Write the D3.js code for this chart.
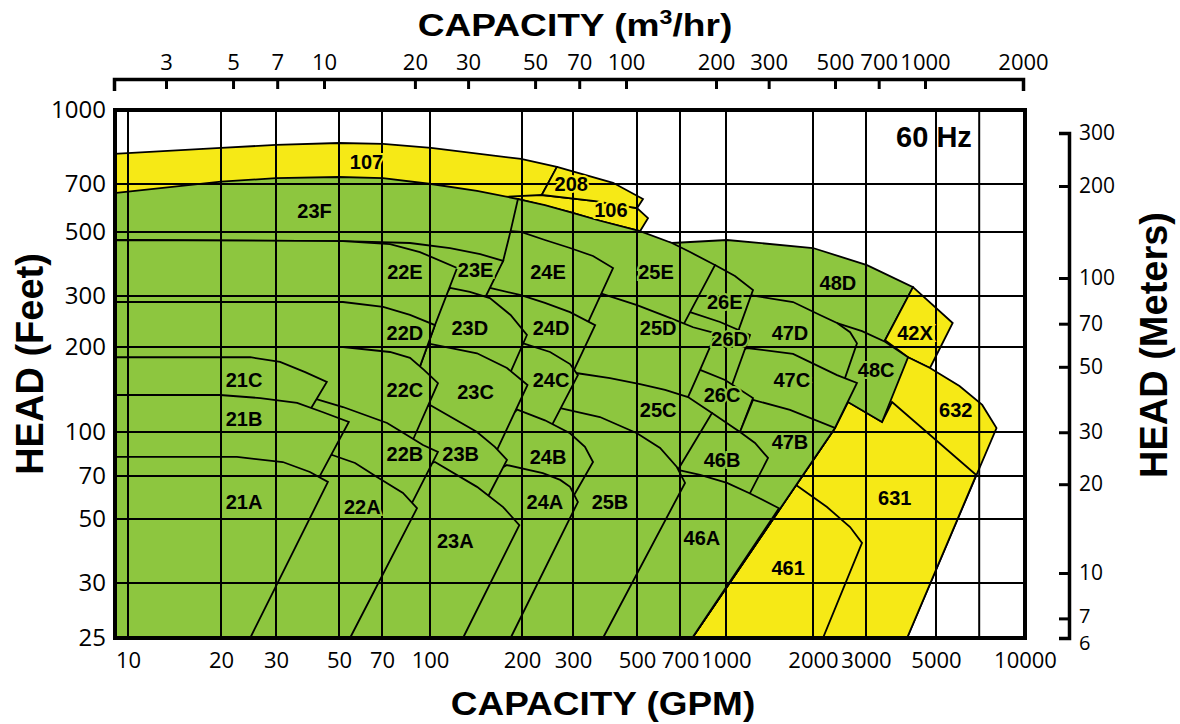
<!DOCTYPE html>
<html>
<head>
<meta charset="utf-8">
<script src="https://cdn.jsdelivr.net/npm/d3@7/dist/d3.min.js"></script>
<style>
  body { margin: 0; background: #fff; }
</style>
</head>
<body>
<div id="wrapper"></div>
<script>
// tick values
const gpmTicks = [10, 20, 30, 50, 70, 100, 200, 300, 500, 700, 1000, 2000, 3000, 5000, 10000];
const gpmGrid = [10, 20, 30, 50, 70, 100, 200, 300, 500, 700, 1000, 2000, 3000, 5000, 7000];
const m3hTicks = [3, 5, 7, 10, 20, 30, 50, 70, 100, 200, 300, 500, 700, 1000, 2000];
const feetTicks = [25, 30, 50, 70, 100, 200, 300, 500, 700, 1000];
const feetGrid = [30, 50, 70, 100, 200, 300, 500, 700];
const meterTicks = [6, 7, 10, 20, 30, 50, 70, 100, 200, 300];

// pump coverage areas, [gpm, feet]. drawn in this order, so the later (lower / left) ones
// hide the parts of the earlier ones that run under them
const regionNames = ["107", "106", "208",
    "48D", "42X", "632", "631", "461", "48C", "47D", "47C",
    "26E", "26D", "26C", "47B", "46B", "46A",
    "25E", "25D", "25C", "25B",
    "24E", "24D", "24C", "24B", "24A",
    "23F", "23E", "23D", "23C", "23B", "23A",
    "22E", "22D", "22C", "22B", "22A",
    "21C", "21B", "21A"];
const yellowAreas = ["107", "106", "208", "42X", "632", "631", "461"];
const regionPoints = [
    // 107, 106, 208
    [[9,809],[20,833],[30,845],[50,853],[70.5,849],[100.8,833],[198.5,790],[264,760],[234,648],[229.5,563],[9,563]],
    [[176,640],[234,648],[358,621],[500,591],[545,551],[512,503],[372,541],[293,575],[194,630],[176,604]],
    [[264,760],[413,704],[524,630],[500,591],[358,621],[234,648]],
    // 48D
    [[657,458],[1008,469],[2000,440],[3022,384],[4228,322],[3447,211],[1008,25],[9,25],[9,507],[372,507]],
    // 42X
    [[4228,322],[5694,242],[4785,168.5],[4077,184],[3447,211]],
    // 632
    [[4077,184],[4785,168.5],[6003,145.5],[7167,124.7],[8010,103.3],[4047,25],[769,25],[2366,103.3],[2615,127.7],[3324,135.2]],
    // 631
    [[2615,127.7],[3372,108.5],[3627,127.7],[6842,70.6],[4047,25],[769,25],[2366,103.3]],
    // 461
    [[1747,65.2],[2226,54.9],[2656,46.9],[2910,41.3],[2158,25],[769,25]],
    // 48C
    [[2404,242],[2910,227],[3447,208.5],[4077,184],[3372,108.5],[2615,127.7],[2110,130],[2110,229]],
    // 47D
    [[1211,302],[1706,286],[2110,258],[2404,242],[2656,225],[2800,206],[2555,155.3],[2366,103.3],[769,25],[9,25],[9,507],[372,507],[818,369],[1163,291]],
    // 47C
    [[1182,198.4],[1706,189],[2404,159],[2800,149.1],[2366,103.3],[769,25],[9,25],[9,291],[372,291],[1118,192]],
    // 26E
    [[918,384],[1074,352],[1240,314.5],[1109,231],[818,110],[372,25],[9,25],[9,507],[372,507],[818,375]],
    // 26D
    [[757,264],[955,244],[1211,220],[1049,146.7],[818,110],[372,25],[9,25],[9,507],[372,507],[700,291]],
    // 26C
    [[818,166],[993,152.8],[1240,131.9],[1118,100],[818,49.6],[372,25],[9,25],[9,291],[372,291],[757,163]],
    // 47B
    [[1240,130],[1665,119.7],[2366,103.3],[769,25],[553,25],[1118,100]],
    // 46B
    [[897,116.8],[1118,100],[1260,91.5],[1398,81],[1201,60.3],[818,36],[372,25],[9,25],[9,110],[757,110]],
    // 46A
    [[688,73.5],[818,70.6],[1008,66.3],[1201,61.3],[1525,54.4],[769,25],[9,25],[9,73.5],[647,73.5]],
    // 25E
    [[194,630],[240,604],[293,575],[372,541],[512,503],[657,458],[757,426],[918,384],[757,264],[194,25],[9,25],[9,604]],
    // 25D
    [[372,307],[500,279],[647,252],[775,234],[925,223],[818,166],[745,133],[322,25],[9,25],[9,302],[343.6,302]],
    // 25C
    [[307,161.8],[403,155.3],[512,147.9],[623,141],[745,133],[897,116.8],[688,73.5],[309.6,25],[9,25],[9,152.8],[293,157.8]],
    // 25B
    [[271,121.6],[372,113],[500,99],[599,87.9],[683,75.3],[728,66.3],[381,25],[9,25],[9,119.7],[260,119.7]],
    // 24E .. 24A
    [[183.5,503],[198.5,500],[240,469],[293,440],[352,413],[413,375],[344,252],[110,25],[9,25],[9,484],[176,484]],
    [[157,320],[198.5,302],[240,284],[293,264],[358,238],[300,163],[114.5,25],[9,25],[9,302]],
    [[202,206],[250,192],[293,174],[312,159],[254,106],[108.6,25],[9,25],[9,195],[185,195]],
    [[193,120],[240,110],[293,99],[330,88.6],[352,78.4],[300,59.4],[161,25],[9,25],[9,115],[185,115]],
    [[178.6,76.5],[236,71.7],[271,67.9],[293,64.3],[312,57.1],[183.5,25],[9,25],[9,73.5],[172,74.8]],
    // 23F .. 23A
    [[9,657],[20,708],[30,720],[50,724],[70.5,720],[100.8,700],[142.5,667],[194,630],[183.5,503],[173.5,397],[146,291],[9,291]],
    [[9,469],[51.6,465],[86.2,458],[116.3,440],[146,419],[173.5,397],[149.1,286],[135,268],[9,268]],
    [[116.3,320],[135,310],[157,295],[183.5,258],[208,220],[183.5,163],[73.2,25],[9,25],[9,268],[103.8,268]],
    [[100,205],[142.5,190],[178.6,168.5],[209,146.7],[165.6,86.4],[84.3,25],[9,25],[9,195],[92.8,195]],
    [[100,124.7],[142.5,100],[163,88.6],[178.6,79.7],[157,61.3],[89.5,25],[9,25],[9,119.7],[93.5,119.7]],
    [[103.8,78.4],[142.5,64.3],[173.5,54.9],[196,47.6],[128.2,25],[9,25],[9,76.5],[97.8,76.5]],
    // 22E .. 22A
    [[9,469],[51.6,465],[74.3,454],[92.8,426],[122.6,375],[103.8,238],[91.4,163],[42.2,25],[9,25]],
    [[9,286],[51.6,286],[70.6,275],[86.2,258],[103.8,238],[91.4,163],[42.2,25],[9,25]],
    [[9,200],[51.6,200],[74.3,192],[86.2,183],[95.6,166],[106.2,149],[89.5,97.6],[45,25],[9,25]],
    [[40.5,131.9],[51.6,122.6],[72.7,107.6],[86.2,96],[94.9,90],[106.2,85.1],[87.5,56.7],[51.6,25],[9,25],[9,130]],
    [[47.3,83],[56.7,77.8],[67.3,69.4],[81.8,61.3],[90.8,54.4],[54.5,25],[9,25],[9,83]],
    // 21C .. 21A
    [[9,184],[24.8,184],[31,177],[38,163],[45.3,150.4],[40.5,124.7],[13.8,25],[9,25]],
    [[9,135.2],[19.85,135.2],[26.7,131.9],[35.6,126.7],[43.7,117.7],[54,108.5],[42.6,69.4],[21.8,25],[9,25]],
    [[9,81.7],[22.5,81.7],[31.7,78.4],[39.5,72.3],[45.7,66.8],[24.8,25],[9,25]]
];

// area labels
const labelText = ["107", "208", "106", "23F", "22E", "23E", "24E", "25E", "26E", "48D",
    "22D", "23D", "24D", "25D", "26D", "47D", "42X",
    "21C", "22C", "23C", "24C", "25C", "26C", "47C", "48C", "632",
    "21B", "22B", "23B", "24B", "46B", "47B",
    "21A", "22A", "24A", "25B", "46A", "631", "23A", "461"];
const labelGpm = [62, 296, 406, 41, 83, 141, 246, 580, 990, 2420,
    83, 135, 252, 590, 1030, 1665, 4290,
    23.7, 83, 141, 252, 590, 970, 1690, 3230, 5830,
    23.7, 83, 126, 246, 970, 1665,
    23.7, 60, 240, 403, 830, 3700, 121, 1640];
const labelFeet = [778, 700, 583, 579, 363, 369, 363, 363, 286, 333,
    224, 233, 233, 233, 213, 224, 224,
    153, 141, 139, 153, 120, 135, 153, 166, 120,
    111, 84, 84, 82, 80, 92,
    57, 55, 57, 57, 43, 59, 42, 34];

const green = "#8dc63f";
const yellow = "#f6e916";

const width = 1180;
const height = 724;

const x = d3.scaleLog()
    .domain([9, 10, 20, 30, 50, 70, 100, 200, 300, 500, 700, 1000, 2000, 3000, 5000, 10000])
    .range([114, 128, 221, 276, 339, 382, 430, 522, 573, 637, 680, 726, 813, 866, 936, 1025]);
const y = d3.scaleLog()
    .domain([25, 30, 50, 70, 100, 200, 300, 500, 700, 1000])
    .range([638, 583, 519, 476, 432, 347, 296, 232, 184, 110]);
const m3h = d3.scaleLog()
    .domain([2.05, 3, 10, 100, 1000, 2000])
    .range([114, 166, 324, 626, 925, 1023]);
const meters = d3.scaleLog()
    .domain([6, 10, 100, 200, 300])
    .range([638, 573, 278, 186, 133]);

const svg = d3.select("#wrapper")
    .append("svg")
    .attr("width", width)
    .attr("height", height);

// areas
const outline = d3.line()
    .x(d => x(d[0]))
    .y(d => y(d[1]));

svg.append("g")
    .selectAll("path")
    .data(regionPoints)
    .join("path")
    .attr("d", d => outline(d) + "Z")
    .attr("fill", (d, i) => yellowAreas.includes(regionNames[i]) ? yellow : green)
    .attr("stroke", "#000")
    .attr("stroke-width", 1.8)
    .attr("stroke-linejoin", "miter");

// grid
const grid = svg.append("g")
    .attr("stroke", "#000")
    .attr("stroke-width", 2);
grid.selectAll("line.v")
    .data(gpmGrid)
    .join("line")
    .attr("class", "v")
    .attr("x1", d => x(d))
    .attr("x2", d => x(d))
    .attr("y1", y(1000))
    .attr("y2", y(25));
grid.selectAll("line.h")
    .data(feetGrid)
    .join("line")
    .attr("class", "h")
    .attr("x1", x(9))
    .attr("x2", x(10000))
    .attr("y1", d => y(d))
    .attr("y2", d => y(d));

// frame
svg.append("rect")
    .attr("x", x(9) + 1)
    .attr("y", y(1000))
    .attr("width", x(10000) - x(9) - 1)
    .attr("height", y(25) - y(1000))
    .attr("fill", "none")
    .attr("stroke", "#000")
    .attr("stroke-width", 4);

// labels inside the areas
svg.append("g")
    .selectAll("text")
    .data(labelText)
    .join("text")
    .attr("x", (d, i) => x(labelGpm[i]))
    .attr("y", (d, i) => y(labelFeet[i]))
    .attr("dy", "0.36em")
    .attr("text-anchor", "middle")
    .attr("font-family", "Liberation Sans, Arial, sans-serif")
    .attr("font-weight", "bold")
    .attr("font-size", 20)
    .attr("fill", "#000")
    .attr("stroke", d => yellowAreas.includes(d) ? yellow : green)
    .attr("stroke-width", 4)
    .attr("paint-order", "stroke")
    .text(d => d);

svg.append("text")
    .attr("x", 934)
    .attr("y", 147)
    .attr("text-anchor", "middle")
    .attr("font-family", "Liberation Sans, Arial, sans-serif")
    .attr("font-weight", "bold")
    .attr("font-size", 29)
    .text("60 Hz");

// axes
function styleAxis(g, size) {
    g.attr("font-family", "Open Sans, sans-serif").attr("font-size", size);
    g.selectAll("text").attr("fill", "#000");
    g.selectAll("line").attr("stroke", "#000").attr("stroke-width", 3);
    g.select(".domain").attr("stroke", "#000").attr("stroke-width", 3.5);
}

const top_axis = svg.append("g")
    .attr("transform", "translate(0,79)")
    .call(d3.axisTop(m3h).tickValues(m3hTicks).tickSizeInner(-10).tickSizeOuter(-12)
        .tickPadding(9).tickFormat(d3.format("d")));
styleAxis(top_axis, 22);

const bottom_axis = svg.append("g")
    .attr("transform", `translate(0,${y(25)})`)
    .call(d3.axisBottom(x).tickValues(gpmTicks).tickSize(0).tickPadding(14).tickFormat(d3.format("d")));
styleAxis(bottom_axis, 22);
bottom_axis.select(".domain").remove();

const left_axis = svg.append("g")
    .attr("transform", `translate(${x(9)},0)`)
    .call(d3.axisLeft(y).tickValues(feetTicks).tickSize(0).tickPadding(8).tickFormat(d3.format("d")));
styleAxis(left_axis, 24);
left_axis.select(".domain").remove();

const right_axis = svg.append("g")
    .attr("transform", "translate(1069,0)")
    .call(d3.axisRight(meters).tickValues(meterTicks).tickSizeInner(-10).tickSizeOuter(-10)
        .tickPadding(10).tickFormat(d3.format("d")));
styleAxis(right_axis, 21);
// the 6 and 7 labels sit very close, the 6 hangs a little below its tick
right_axis.selectAll(".tick text")
    .attr("dy", d => d === 6 ? "0.58em" : (d === 7 ? "0.22em" : "0.32em"))
    .attr("font-size", d => d < 10 ? 20 : 21);

// titles
const top_title = svg.append("text")
    .attr("transform", "translate(575,36) scale(1.16,1)")
    .attr("text-anchor", "middle")
    .attr("font-family", "Liberation Sans, Arial, sans-serif")
    .attr("font-weight", "bold")
    .attr("font-size", 32);
top_title.append("tspan").text("CAPACITY (m");
top_title.append("tspan").attr("font-size", 20).attr("dy", -12).text("3");
top_title.append("tspan").attr("dy", 12).text("/hr)");

svg.append("text")
    .attr("transform", "translate(603,715) scale(1.12,1)")
    .attr("text-anchor", "middle")
    .attr("font-family", "Liberation Sans, Arial, sans-serif")
    .attr("font-weight", "bold")
    .attr("font-size", 33)
    .text("CAPACITY (GPM)");

svg.append("text")
    .attr("transform", "translate(43,364) rotate(-90)")
    .attr("text-anchor", "middle")
    .attr("font-family", "Liberation Sans, Arial, sans-serif")
    .attr("font-weight", "bold")
    .attr("font-size", 38)
    .text("HEAD (Feet)");

svg.append("text")
    .attr("transform", "translate(1167,345) rotate(-90)")
    .attr("text-anchor", "middle")
    .attr("font-family", "Liberation Sans, Arial, sans-serif")
    .attr("font-weight", "bold")
    .attr("font-size", 38)
    .text("HEAD (Meters)");
</script>
</body>
</html>
